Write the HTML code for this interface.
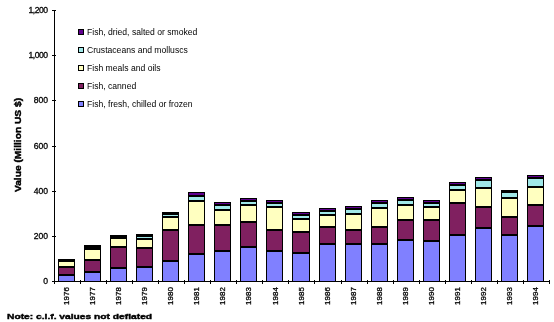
<!DOCTYPE html>
<html><head><meta charset="utf-8"><style>
html,body{margin:0;padding:0;background:#fff;}
body{width:554px;height:322px;position:relative;overflow:hidden;}
div{position:absolute;}
.t{filter:grayscale(1);font-family:"Liberation Sans",sans-serif;white-space:nowrap;color:#000;line-height:1;}
</style></head><body>
<div style="left:54px;top:10px;width:1px;height:272px;background:#000;"></div>
<div style="left:52px;top:10px;width:4px;height:1px;background:#000;"></div>
<div style="left:52px;top:55px;width:4px;height:1px;background:#000;"></div>
<div style="left:52px;top:100px;width:4px;height:1px;background:#000;"></div>
<div style="left:52px;top:146px;width:4px;height:1px;background:#000;"></div>
<div style="left:52px;top:191px;width:4px;height:1px;background:#000;"></div>
<div style="left:52px;top:236px;width:4px;height:1px;background:#000;"></div>
<div style="left:52px;top:281px;width:4px;height:1px;background:#000;"></div>
<div style="left:54px;top:281px;width:496px;height:1px;background:#000;"></div>
<div style="left:54px;top:280px;width:1px;height:4px;background:#000;"></div>
<div style="left:80px;top:280px;width:1px;height:4px;background:#000;"></div>
<div style="left:106px;top:280px;width:1px;height:4px;background:#000;"></div>
<div style="left:132px;top:280px;width:1px;height:4px;background:#000;"></div>
<div style="left:158px;top:280px;width:1px;height:4px;background:#000;"></div>
<div style="left:184px;top:280px;width:1px;height:4px;background:#000;"></div>
<div style="left:210px;top:280px;width:1px;height:4px;background:#000;"></div>
<div style="left:236px;top:280px;width:1px;height:4px;background:#000;"></div>
<div style="left:262px;top:280px;width:1px;height:4px;background:#000;"></div>
<div style="left:288px;top:280px;width:1px;height:4px;background:#000;"></div>
<div style="left:314px;top:280px;width:1px;height:4px;background:#000;"></div>
<div style="left:341px;top:280px;width:1px;height:4px;background:#000;"></div>
<div style="left:367px;top:280px;width:1px;height:4px;background:#000;"></div>
<div style="left:393px;top:280px;width:1px;height:4px;background:#000;"></div>
<div style="left:419px;top:280px;width:1px;height:4px;background:#000;"></div>
<div style="left:445px;top:280px;width:1px;height:4px;background:#000;"></div>
<div style="left:471px;top:280px;width:1px;height:4px;background:#000;"></div>
<div style="left:497px;top:280px;width:1px;height:4px;background:#000;"></div>
<div style="left:523px;top:280px;width:1px;height:4px;background:#000;"></div>
<div style="left:549px;top:280px;width:1px;height:4px;background:#000;"></div>
<div style="left:58px;top:259px;width:17px;height:23px;background:#000;"></div>
<div style="left:59px;top:262px;width:15px;height:4px;background:#FFFFC0;"></div>
<div style="left:59px;top:268px;width:15px;height:6px;background:#802060;"></div>
<div style="left:59px;top:276px;width:15px;height:5px;background:#8080FF;"></div>
<div style="left:84px;top:245px;width:17px;height:37px;background:#000;"></div>
<div style="left:85px;top:250px;width:15px;height:9px;background:#FFFFC0;"></div>
<div style="left:85px;top:261px;width:15px;height:10px;background:#802060;"></div>
<div style="left:85px;top:273px;width:15px;height:8px;background:#8080FF;"></div>
<div style="left:110px;top:235px;width:17px;height:47px;background:#000;"></div>
<div style="left:111px;top:239px;width:15px;height:7px;background:#FFFFC0;"></div>
<div style="left:111px;top:248px;width:15px;height:19px;background:#802060;"></div>
<div style="left:111px;top:269px;width:15px;height:12px;background:#8080FF;"></div>
<div style="left:136px;top:234px;width:17px;height:48px;background:#000;"></div>
<div style="left:137px;top:237px;width:15px;height:1px;background:#A0E8E8;"></div>
<div style="left:137px;top:240px;width:15px;height:7px;background:#FFFFC0;"></div>
<div style="left:137px;top:249px;width:15px;height:17px;background:#802060;"></div>
<div style="left:137px;top:268px;width:15px;height:13px;background:#8080FF;"></div>
<div style="left:162px;top:212px;width:17px;height:70px;background:#000;"></div>
<div style="left:163px;top:215px;width:15px;height:1px;background:#A0E8E8;"></div>
<div style="left:163px;top:218px;width:15px;height:11px;background:#FFFFC0;"></div>
<div style="left:163px;top:231px;width:15px;height:29px;background:#802060;"></div>
<div style="left:163px;top:262px;width:15px;height:19px;background:#8080FF;"></div>
<div style="left:188px;top:192px;width:17px;height:90px;background:#000;"></div>
<div style="left:189px;top:193px;width:15px;height:2px;background:#600090;"></div>
<div style="left:189px;top:197px;width:15px;height:3px;background:#A0E8E8;"></div>
<div style="left:189px;top:202px;width:15px;height:22px;background:#FFFFC0;"></div>
<div style="left:189px;top:226px;width:15px;height:27px;background:#802060;"></div>
<div style="left:189px;top:255px;width:15px;height:26px;background:#8080FF;"></div>
<div style="left:214px;top:202px;width:17px;height:80px;background:#000;"></div>
<div style="left:215px;top:203px;width:15px;height:1px;background:#600090;"></div>
<div style="left:215px;top:206px;width:15px;height:3px;background:#A0E8E8;"></div>
<div style="left:215px;top:211px;width:15px;height:13px;background:#FFFFC0;"></div>
<div style="left:215px;top:226px;width:15px;height:24px;background:#802060;"></div>
<div style="left:215px;top:252px;width:15px;height:29px;background:#8080FF;"></div>
<div style="left:240px;top:198px;width:17px;height:84px;background:#000;"></div>
<div style="left:241px;top:199px;width:15px;height:1px;background:#600090;"></div>
<div style="left:241px;top:202px;width:15px;height:2px;background:#A0E8E8;"></div>
<div style="left:241px;top:206px;width:15px;height:15px;background:#FFFFC0;"></div>
<div style="left:241px;top:223px;width:15px;height:23px;background:#802060;"></div>
<div style="left:241px;top:248px;width:15px;height:33px;background:#8080FF;"></div>
<div style="left:266px;top:200px;width:17px;height:82px;background:#000;"></div>
<div style="left:267px;top:201px;width:15px;height:1px;background:#600090;"></div>
<div style="left:267px;top:204px;width:15px;height:2px;background:#A0E8E8;"></div>
<div style="left:267px;top:208px;width:15px;height:21px;background:#FFFFC0;"></div>
<div style="left:267px;top:231px;width:15px;height:19px;background:#802060;"></div>
<div style="left:267px;top:252px;width:15px;height:29px;background:#8080FF;"></div>
<div style="left:292px;top:212px;width:18px;height:70px;background:#000;"></div>
<div style="left:293px;top:213px;width:16px;height:1px;background:#600090;"></div>
<div style="left:293px;top:216px;width:16px;height:2px;background:#A0E8E8;"></div>
<div style="left:293px;top:220px;width:16px;height:11px;background:#FFFFC0;"></div>
<div style="left:293px;top:233px;width:16px;height:19px;background:#802060;"></div>
<div style="left:293px;top:254px;width:16px;height:27px;background:#8080FF;"></div>
<div style="left:319px;top:208px;width:17px;height:74px;background:#000;"></div>
<div style="left:320px;top:209px;width:15px;height:1px;background:#600090;"></div>
<div style="left:320px;top:212px;width:15px;height:2px;background:#A0E8E8;"></div>
<div style="left:320px;top:216px;width:15px;height:10px;background:#FFFFC0;"></div>
<div style="left:320px;top:228px;width:15px;height:15px;background:#802060;"></div>
<div style="left:320px;top:245px;width:15px;height:36px;background:#8080FF;"></div>
<div style="left:345px;top:206px;width:17px;height:76px;background:#000;"></div>
<div style="left:346px;top:207px;width:15px;height:1px;background:#600090;"></div>
<div style="left:346px;top:210px;width:15px;height:3px;background:#A0E8E8;"></div>
<div style="left:346px;top:215px;width:15px;height:14px;background:#FFFFC0;"></div>
<div style="left:346px;top:231px;width:15px;height:12px;background:#802060;"></div>
<div style="left:346px;top:245px;width:15px;height:36px;background:#8080FF;"></div>
<div style="left:371px;top:200px;width:17px;height:82px;background:#000;"></div>
<div style="left:372px;top:201px;width:15px;height:1px;background:#600090;"></div>
<div style="left:372px;top:204px;width:15px;height:3px;background:#A0E8E8;"></div>
<div style="left:372px;top:209px;width:15px;height:17px;background:#FFFFC0;"></div>
<div style="left:372px;top:228px;width:15px;height:15px;background:#802060;"></div>
<div style="left:372px;top:245px;width:15px;height:36px;background:#8080FF;"></div>
<div style="left:397px;top:197px;width:17px;height:85px;background:#000;"></div>
<div style="left:398px;top:198px;width:15px;height:1px;background:#600090;"></div>
<div style="left:398px;top:201px;width:15px;height:3px;background:#A0E8E8;"></div>
<div style="left:398px;top:206px;width:15px;height:13px;background:#FFFFC0;"></div>
<div style="left:398px;top:221px;width:15px;height:18px;background:#802060;"></div>
<div style="left:398px;top:241px;width:15px;height:40px;background:#8080FF;"></div>
<div style="left:423px;top:200px;width:17px;height:82px;background:#000;"></div>
<div style="left:424px;top:201px;width:15px;height:1px;background:#600090;"></div>
<div style="left:424px;top:204px;width:15px;height:2px;background:#A0E8E8;"></div>
<div style="left:424px;top:208px;width:15px;height:11px;background:#FFFFC0;"></div>
<div style="left:424px;top:221px;width:15px;height:19px;background:#802060;"></div>
<div style="left:424px;top:242px;width:15px;height:39px;background:#8080FF;"></div>
<div style="left:449px;top:182px;width:17px;height:100px;background:#000;"></div>
<div style="left:450px;top:183px;width:15px;height:1px;background:#600090;"></div>
<div style="left:450px;top:186px;width:15px;height:3px;background:#A0E8E8;"></div>
<div style="left:450px;top:191px;width:15px;height:11px;background:#FFFFC0;"></div>
<div style="left:450px;top:204px;width:15px;height:30px;background:#802060;"></div>
<div style="left:450px;top:236px;width:15px;height:45px;background:#8080FF;"></div>
<div style="left:475px;top:177px;width:17px;height:105px;background:#000;"></div>
<div style="left:476px;top:178px;width:15px;height:1px;background:#600090;"></div>
<div style="left:476px;top:181px;width:15px;height:6px;background:#A0E8E8;"></div>
<div style="left:476px;top:189px;width:15px;height:17px;background:#FFFFC0;"></div>
<div style="left:476px;top:208px;width:15px;height:19px;background:#802060;"></div>
<div style="left:476px;top:229px;width:15px;height:52px;background:#8080FF;"></div>
<div style="left:501px;top:190px;width:17px;height:92px;background:#000;"></div>
<div style="left:502px;top:193px;width:15px;height:4px;background:#A0E8E8;"></div>
<div style="left:502px;top:199px;width:15px;height:17px;background:#FFFFC0;"></div>
<div style="left:502px;top:218px;width:15px;height:16px;background:#802060;"></div>
<div style="left:502px;top:236px;width:15px;height:45px;background:#8080FF;"></div>
<div style="left:527px;top:175px;width:17px;height:107px;background:#000;"></div>
<div style="left:528px;top:176px;width:15px;height:1px;background:#600090;"></div>
<div style="left:528px;top:179px;width:15px;height:7px;background:#A0E8E8;"></div>
<div style="left:528px;top:188px;width:15px;height:16px;background:#FFFFC0;"></div>
<div style="left:528px;top:206px;width:15px;height:19px;background:#802060;"></div>
<div style="left:528px;top:227px;width:15px;height:54px;background:#8080FF;"></div>
<div class="t" style="right:506.5px;top:6px;font-size:8.6px;-webkit-text-stroke:0.3px #000;letter-spacing:-0.5px;">1,200</div>
<div class="t" style="right:506.5px;top:51px;font-size:8.6px;-webkit-text-stroke:0.3px #000;letter-spacing:-0.5px;">1,000</div>
<div class="t" style="right:506px;top:96px;font-size:8.6px;-webkit-text-stroke:0.3px #000;">800</div>
<div class="t" style="right:506px;top:142px;font-size:8.6px;-webkit-text-stroke:0.3px #000;">600</div>
<div class="t" style="right:506px;top:187px;font-size:8.6px;-webkit-text-stroke:0.3px #000;">400</div>
<div class="t" style="right:506px;top:232px;font-size:8.6px;-webkit-text-stroke:0.3px #000;">200</div>
<div class="t" style="right:506px;top:277px;font-size:8.6px;-webkit-text-stroke:0.3px #000;">0</div>
<div class="t" style="left:57.1px;top:292px;width:20px;height:8px;font-size:8px;text-align:center;transform:rotate(-90deg);-webkit-text-stroke:0.3px #000;">1976</div>
<div class="t" style="left:83.1px;top:292px;width:20px;height:8px;font-size:8px;text-align:center;transform:rotate(-90deg);-webkit-text-stroke:0.3px #000;">1977</div>
<div class="t" style="left:109.2px;top:292px;width:20px;height:8px;font-size:8px;text-align:center;transform:rotate(-90deg);-webkit-text-stroke:0.3px #000;">1978</div>
<div class="t" style="left:135.2px;top:292px;width:20px;height:8px;font-size:8px;text-align:center;transform:rotate(-90deg);-webkit-text-stroke:0.3px #000;">1979</div>
<div class="t" style="left:161.3px;top:292px;width:20px;height:8px;font-size:8px;text-align:center;transform:rotate(-90deg);-webkit-text-stroke:0.3px #000;">1980</div>
<div class="t" style="left:187.3px;top:292px;width:20px;height:8px;font-size:8px;text-align:center;transform:rotate(-90deg);-webkit-text-stroke:0.3px #000;">1981</div>
<div class="t" style="left:213.4px;top:292px;width:20px;height:8px;font-size:8px;text-align:center;transform:rotate(-90deg);-webkit-text-stroke:0.3px #000;">1982</div>
<div class="t" style="left:239.4px;top:292px;width:20px;height:8px;font-size:8px;text-align:center;transform:rotate(-90deg);-webkit-text-stroke:0.3px #000;">1983</div>
<div class="t" style="left:265.5px;top:292px;width:20px;height:8px;font-size:8px;text-align:center;transform:rotate(-90deg);-webkit-text-stroke:0.3px #000;">1984</div>
<div class="t" style="left:291.6px;top:292px;width:20px;height:8px;font-size:8px;text-align:center;transform:rotate(-90deg);-webkit-text-stroke:0.3px #000;">1985</div>
<div class="t" style="left:317.6px;top:292px;width:20px;height:8px;font-size:8px;text-align:center;transform:rotate(-90deg);-webkit-text-stroke:0.3px #000;">1986</div>
<div class="t" style="left:343.7px;top:292px;width:20px;height:8px;font-size:8px;text-align:center;transform:rotate(-90deg);-webkit-text-stroke:0.3px #000;">1987</div>
<div class="t" style="left:369.7px;top:292px;width:20px;height:8px;font-size:8px;text-align:center;transform:rotate(-90deg);-webkit-text-stroke:0.3px #000;">1988</div>
<div class="t" style="left:395.8px;top:292px;width:20px;height:8px;font-size:8px;text-align:center;transform:rotate(-90deg);-webkit-text-stroke:0.3px #000;">1989</div>
<div class="t" style="left:421.8px;top:292px;width:20px;height:8px;font-size:8px;text-align:center;transform:rotate(-90deg);-webkit-text-stroke:0.3px #000;">1990</div>
<div class="t" style="left:447.9px;top:292px;width:20px;height:8px;font-size:8px;text-align:center;transform:rotate(-90deg);-webkit-text-stroke:0.3px #000;">1991</div>
<div class="t" style="left:473.9px;top:292px;width:20px;height:8px;font-size:8px;text-align:center;transform:rotate(-90deg);-webkit-text-stroke:0.3px #000;">1992</div>
<div class="t" style="left:500.0px;top:292px;width:20px;height:8px;font-size:8px;text-align:center;transform:rotate(-90deg);-webkit-text-stroke:0.3px #000;">1993</div>
<div class="t" style="left:526.0px;top:292px;width:20px;height:8px;font-size:8px;text-align:center;transform:rotate(-90deg);-webkit-text-stroke:0.3px #000;">1994</div>
<div class="t" style="left:-36px;top:140px;width:110px;height:10px;font-size:8.5px;font-weight:bold;text-align:center;transform:rotate(-90deg) scale(1.2,1);-webkit-text-stroke:0.4px #000;">Value (Million US $)</div>
<div style="left:78px;top:29px;width:6px;height:6px;background:#600090;box-sizing:border-box;border:1px solid #000;"></div>
<div class="t" style="left:87px;top:28.3px;font-size:8.6px;filter:grayscale(1) contrast(1.8);">Fish, dried, salted or smoked</div>
<div style="left:78px;top:47px;width:6px;height:6px;background:#A0E8E8;box-sizing:border-box;border:1px solid #000;"></div>
<div class="t" style="left:87px;top:46.3px;font-size:8.6px;filter:grayscale(1) contrast(1.8);">Crustaceans and molluscs</div>
<div style="left:78px;top:65px;width:6px;height:6px;background:#FFFFC0;box-sizing:border-box;border:1px solid #000;"></div>
<div class="t" style="left:87px;top:64.3px;font-size:8.6px;filter:grayscale(1) contrast(1.8);">Fish meals and oils</div>
<div style="left:78px;top:83px;width:6px;height:6px;background:#802060;box-sizing:border-box;border:1px solid #000;"></div>
<div class="t" style="left:87px;top:82.3px;font-size:8.6px;filter:grayscale(1) contrast(1.8);">Fish, canned</div>
<div style="left:78px;top:101px;width:6px;height:6px;background:#8080FF;box-sizing:border-box;border:1px solid #000;"></div>
<div class="t" style="left:87px;top:100.3px;font-size:8.6px;filter:grayscale(1) contrast(1.8);">Fish, fresh, chilled or frozen</div>
<div class="t" style="left:7px;top:313px;font-size:8px;font-weight:bold;transform-origin:0 0;transform:scaleX(1.28);-webkit-text-stroke:0.4px #000;">Note: c.i.f. values not deflated</div>
</body></html>
